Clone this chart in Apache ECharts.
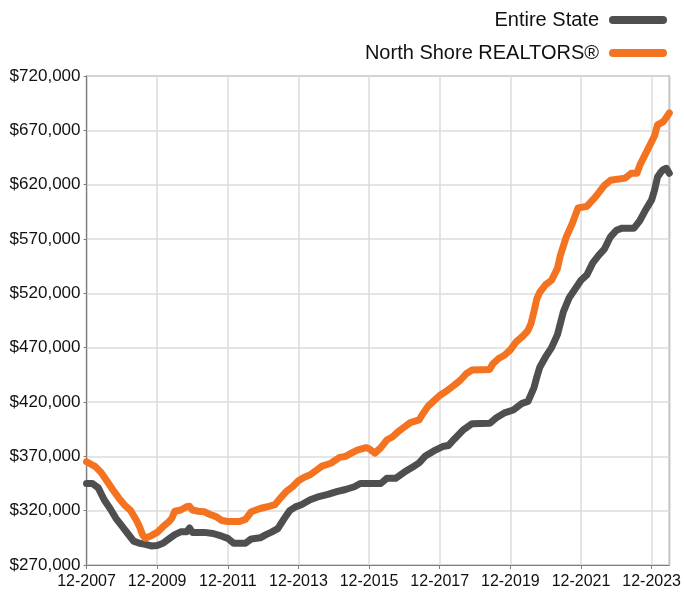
<!DOCTYPE html>
<html>
<head>
<meta charset="utf-8">
<script src="https://cdn.jsdelivr.net/npm/echarts@6/dist/echarts.min.js"></script>
<style>
  html, body { margin: 0; padding: 0; background: #fff; }
  #chart { width: 684px; height: 592px; }
</style>
</head>
<body>
<div id="chart"></div>
<script>
// months are counted from 12-2007 (0 = Dec 2007)
const tickLabels = ['12-2007', '12-2009', '12-2011', '12-2013', '12-2015', '12-2017', '12-2019', '12-2021', '12-2023'];

const stateMonths = [0, 2, 4, 6, 8, 10, 12, 14, 16, 18, 20, 22, 24, 26, 28, 30, 32, 34, 35, 36, 40, 43, 46, 48, 50, 54, 56, 59, 61, 63, 65, 67, 69, 71, 73, 76, 79, 82, 85, 88, 91, 93, 100, 102, 105, 108, 111, 113, 115, 118, 121, 123, 125, 128, 131, 137, 139, 142, 145, 148, 150, 152, 153, 154, 156, 158, 160, 162, 164, 166, 168, 170, 172, 174, 176, 178, 180, 182, 186, 188, 190, 192, 193, 194, 195, 196, 197, 198];
const stateValues = [345000, 345000, 341000, 330000, 322000, 313000, 306000, 299000, 292000, 290000, 289000, 287500, 288000, 290000, 294000, 298000, 300500, 300500, 304000, 300000, 300000, 299000, 296500, 294500, 290000, 290000, 294000, 295000, 298000, 300500, 303500, 312000, 320000, 323500, 325500, 330000, 333000, 335000, 337500, 339500, 342000, 345000, 345000, 349800, 349800, 355500, 360500, 364000, 370000, 375000, 379000, 380000, 386000, 394400, 400000, 400400, 405000, 410000, 412600, 418800, 420500, 433000, 443000, 452000, 461700, 470000, 482000, 503000, 516000, 524000, 532000, 537000, 548000, 555000, 561000, 572000, 578000, 580000, 580000, 587000, 597000, 606000, 615000, 627000, 631000, 634000, 635000, 630500];

const shoreMonths = [0, 2, 3, 5, 7, 9, 11, 13, 15, 17, 18, 19, 20, 22, 24, 26, 28, 29, 30, 32, 34, 35, 36, 38, 40, 42, 44, 46, 48, 52, 54, 56, 59, 62, 64, 66, 68, 70, 72, 74, 76, 78, 80, 83, 86, 88, 90, 92, 95, 96, 98, 100, 102, 104, 106, 108, 110, 113, 114, 116, 118, 120, 122, 125, 127, 129, 131, 137, 138, 140, 142, 144, 146, 148, 150, 151, 152, 153, 154, 156, 158, 160, 161, 163, 165, 167, 170, 173, 176, 178, 183, 185, 187, 188, 190, 192, 193, 194, 196, 198];
const shoreValues = [365000, 362000, 360500, 355000, 347000, 339000, 331500, 325000, 320000, 311000, 305300, 298000, 294600, 297000, 300000, 305300, 310000, 313000, 319500, 320600, 323600, 324000, 320600, 319500, 319000, 316500, 314500, 311000, 310000, 310000, 312000, 319000, 322000, 324000, 325500, 332000, 338000, 342000, 347500, 350800, 353000, 357000, 361000, 363600, 369000, 370000, 373000, 375800, 378000, 377000, 373000, 378000, 385000, 388000, 393000, 397000, 401000, 403500, 408000, 416000, 421000, 426000, 429500, 435600, 440000, 446000, 449500, 450000, 455000, 460000, 463000, 468000, 475500, 480000, 486000, 492000, 503000, 515000, 521000, 528000, 532000, 543000, 555000, 572000, 584000, 598500, 600000, 609000, 619500, 624000, 626000, 630400, 630500, 638000, 648800, 659600, 665000, 675000, 678000, 686000];

const pairs = (xs, ys) => xs.map((x, i) => [x, ys[i]]);

const capsule = 'path://M4,0 H54 A4,4 0 0 1 54,8 H4 A4,4 0 0 1 4,0 Z';
const font = 'Liberation Sans, Arial, Helvetica, sans-serif';

const chart = echarts.init(document.getElementById('chart'));

const option = {
   animation: false,
   legend: {
      orient: 'vertical',
      right: 12,
      top: 5,
      align: 'right',
      itemGap: 13,
      itemWidth: 58,
      itemHeight: 8,
      textStyle: { fontFamily: font, fontSize: 20, color: '#111', padding: [0, 5, 0, 0] },
      data: [
         { name: 'Entire State', icon: capsule },
         { name: 'North Shore REALTORS®', icon: capsule }
      ]
   },
   grid: {
      left: 86.5,
      right: 10,
      top: 76,
      bottom: 27,
      show: true,
      borderColor: '#7f7f7f',
      borderWidth: 1.2
   },
   xAxis: {
      type: 'value',
      min: 0,
      max: 198,
      interval: 24,
      axisLine: { show: true, lineStyle: { color: '#7f7f7f', width: 1.2 } },
      axisTick: { show: true, length: 4, lineStyle: { color: '#7f7f7f' } },
      splitLine: { show: true, lineStyle: { color: '#dcdcdc', width: 1.5 } },
      axisLabel: {
         showMaxLabel: false,
         margin: 9,
         fontFamily: font,
         fontSize: 16,
         color: '#111',
         formatter: v => (v % 24 === 0 ? tickLabels[v / 24] : '')
      }
   },
   yAxis: {
      type: 'value',
      min: 270000,
      max: 720000,
      interval: 50000,
      axisLine: { show: true, lineStyle: { color: '#7f7f7f', width: 1.2 } },
      axisTick: { show: true, length: 3, lineStyle: { color: '#7f7f7f' } },
      splitLine: { show: true, lineStyle: { color: '#dcdcdc', width: 1.5 } },
      axisLabel: {
         margin: 6,
         fontFamily: font,
         fontSize: 17,
         color: '#111',
         formatter: v => '$' + v.toLocaleString('en-US')
      }
   },
   series: [
      {
         name: 'Entire State',
         type: 'line',
         data: pairs(stateMonths, stateValues),
         showSymbol: false,
         symbol: 'none',
         itemStyle: { color: '#4f4f4f' },
         lineStyle: { color: '#4f4f4f', width: 7, cap: 'round', join: 'round' }
      },
      {
         name: 'North Shore REALTORS®',
         type: 'line',
         data: pairs(shoreMonths, shoreValues),
         showSymbol: false,
         symbol: 'none',
         itemStyle: { color: '#f47321' },
         lineStyle: { color: '#f47321', width: 7, cap: 'round', join: 'round' }
      }
   ]
};

chart.setOption(option);
</script>
</body>
</html>
